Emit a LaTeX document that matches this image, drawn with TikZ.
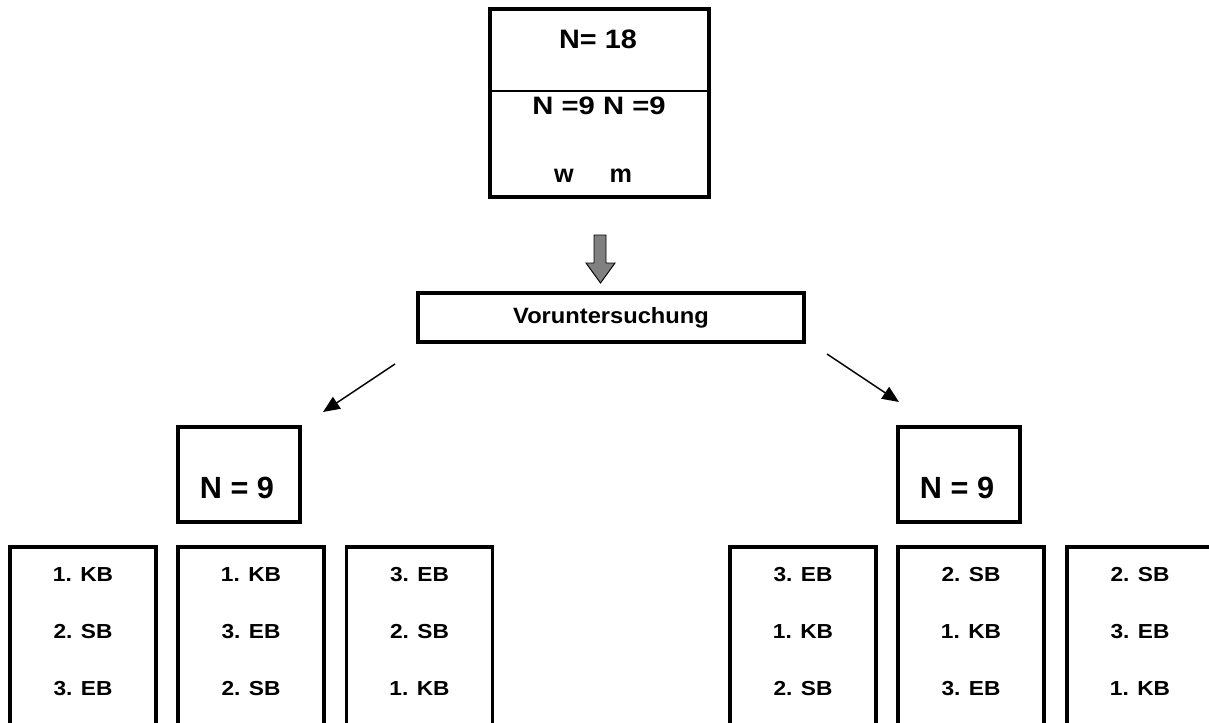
\documentclass[tikz,border=0pt]{standalone}
\usepackage{fontspec}
\setmainfont{Liberation Sans}
\usetikzlibrary{arrows.meta}
\newcommand\hstretch[2]{\scalebox{#1}[1]{#2}}
\tikzset{
  box/.style={draw=black, line width=2.4pt, rectangle, inner sep=0pt},
  lbl/.style={anchor=base, inner sep=0pt, font=\bfseries},
  diag/.style={line width=1.1pt, -{Triangle[length=12.5pt,width=10.5pt]}},
}
\begin{document}
\begin{tikzpicture}[x=0.75pt,y=-0.75pt]
\useasboundingbox (0,0) rectangle (1209,722);
\clip (0,0) rectangle (1209,722);
% top box
\node[box, minimum width=219*0.75pt, minimum height=188*0.75pt] (top) at (599.5,103) {};
\draw[line width=0.9pt] (top.west |- 0,91) -- (top.east |- 0,91);
\node[lbl, font=\bfseries\fontsize{20pt}{22pt}\selectfont] (t1) at (598,48) {\hstretch{1.08}{N= 18}};
\node[lbl, font=\bfseries\fontsize{18.9pt}{21pt}\selectfont] (t2) at (599,114) {\hstretch{1.16}{N =9 N =9}};
\node[lbl, font=\bfseries\fontsize{18.9pt}{21pt}\selectfont] (t3) at (593,182) {w\hspace{27pt}m};
% gray block arrow
\draw[fill=gray, draw=black, line width=0.7pt]
  (594,235) -- (606,235) -- (606,263) -- (615,263) -- (600.5,283) -- (586,263) -- (594,263) -- cycle;
% Voruntersuchung
\node[box, minimum width=386*0.75pt, minimum height=49*0.75pt] (vor) at (611,317.5) {};
\node[lbl, font=\bfseries\fontsize{16.6pt}{19pt}\selectfont] (vt) at (611,323) {\hstretch{1.07}{Voruntersuchung}};
% diagonal arrows
\coordinate (la1) at (395,364);
\coordinate (la2) at (323,412);
\coordinate (ra1) at (827,354);
\coordinate (ra2) at (899,402);
\draw[diag] (la1) -- (la2);
\draw[diag] (ra1) -- (ra2);
% N = 9 boxes
\node[box, minimum width=122*0.75pt, minimum height=95*0.75pt] (nl) at (239,474.5) {};
\node[lbl, font=\bfseries\fontsize{23pt}{26pt}\selectfont] (nlt) at (237,498) {N = 9};
\node[box, minimum width=122*0.75pt, minimum height=95*0.75pt] (nr) at (959,474.5) {};
\node[lbl, font=\bfseries\fontsize{23pt}{26pt}\selectfont] (nrt) at (957,498) {N = 9};
% bottom boxes
\foreach \n/\cx/\a/\b/\c in {b1/83/1. KB/2. SB/3. EB, b2/251/1. KB/3. EB/2. SB, b3/419.5/3. EB/2. SB/1. KB, b4/803/3. EB/1. KB/2. SB, b5/971/2. SB/1. KB/3. EB, b6/1140/2. SB/3. EB/1. KB}{
  \node[box, minimum width=146*0.75pt, minimum height=210*0.75pt] (\n) at (\cx,652) {};
  \node[lbl, font=\bfseries\fontsize{15.2pt}{18pt}\selectfont] (\n a) at (\cx,581) {\hstretch{1.12}{\a}};
  \node[lbl, font=\bfseries\fontsize{15.2pt}{18pt}\selectfont] (\n b) at (\cx,638) {\hstretch{1.12}{\b}};
  \node[lbl, font=\bfseries\fontsize{15.2pt}{18pt}\selectfont] (\n c) at (\cx,695) {\hstretch{1.12}{\c}};
}
\end{tikzpicture}
\end{document}
